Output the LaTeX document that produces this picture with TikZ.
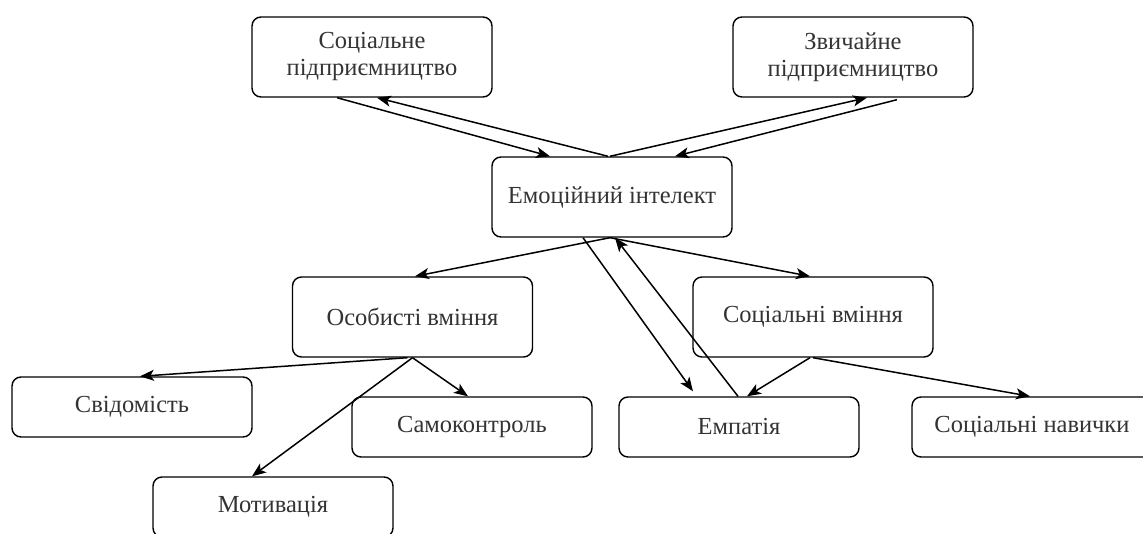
\documentclass[tikz,border=0pt]{standalone}
\usepackage{fontspec}
\setmainfont{Liberation Serif}
\usetikzlibrary{arrows.meta}
\tikzset{
  box/.style={draw=black, line width=1.4pt, rounded corners=9pt, minimum width=240pt,
    text=black!80, font=\fontsize{24.5}{27}\selectfont, align=center, inner sep=0pt},
  bigbox/.style={box, minimum height=80pt},
  leafbox/.style={box, minimum height=60pt},
  conn/.style={draw=black, line width=1.5pt, -{Stealth[length=14pt,width=11pt,inset=3.5pt]}}
}
\begin{document}
\begin{tikzpicture}[x=1pt,y=-1pt]
\useasboundingbox (0,0) rectangle (1143,534);
\clip (0,0) rectangle (1143,534);
\node[bigbox] (soc) at (372,57) {Соціальне\\підприємництво};
\node[bigbox] (zvy) at (853,57) {Звичайне\\підприємництво};
\node[bigbox] (ei) at (612,197) {Емоційний інтелект};
\node[bigbox] (os) at (412.5,317) {Особисті вміння};
\node[bigbox] (sv) at (813,317) {Соціальні вміння};
\node[leafbox] (svid) at (132,407) {Свідомість};
\node[leafbox] (samo) at (472,427) {Самоконтроль};
\node[leafbox] (moty) at (273,507) {Мотивація};
\node[leafbox] (emp) at (739,427) {Емпатія};
\node[leafbox] (navy) at (1032,427) {Соціальні навички};

\draw[conn] ([xshift=-35pt]soc.south) -- ([xshift=-62pt]ei.north);
\draw[conn] ([xshift=-4pt]ei.north) -- ([xshift=5pt]soc.south);
\draw[conn] ([xshift=-2pt]ei.north) -- ([xshift=14pt]zvy.south);
\draw[conn] ([xshift=44pt,yshift=-2pt]zvy.south) -- ([xshift=63pt]ei.north);
\draw[conn] ([xshift=-2pt]ei.south) -- ([xshift=2.5pt]os.north);
\draw[conn] ([xshift=-2pt]ei.south) -- ([xshift=-3pt]sv.north);
\draw[conn] ([xshift=-29pt]ei.south) -- ([xshift=-46pt,yshift=5pt]emp.north);
\draw[conn] ([xshift=-1pt]emp.north) -- ([xshift=3pt]ei.south);
\draw[conn] ([xshift=-3pt]sv.south) -- ([xshift=8pt]emp.north);
\draw[conn] (sv.south) -- ([xshift=-2pt]navy.north);
\draw[conn] (os.south) -- ([xshift=-4pt]samo.north);
\draw[conn] (os.south) -- ([xshift=-21pt]moty.north);
\draw[conn] ([xshift=-5pt]os.south) -- ([xshift=8pt]svid.north);
\end{tikzpicture}
\end{document}
